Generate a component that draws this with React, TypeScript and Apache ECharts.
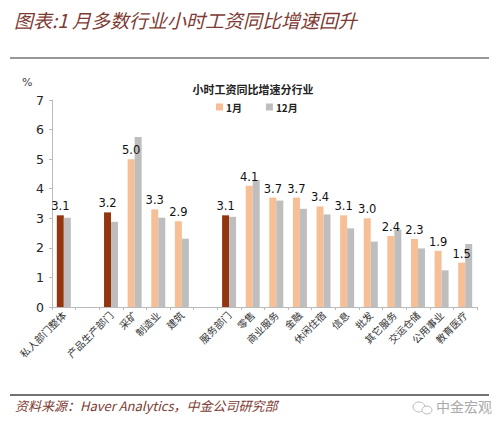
import React, { useEffect, useRef } from "react";
import * as echarts from "echarts";

const categories = [
  "私人部门整体", "", "产品生产部门", "采矿", "制造业", "建筑", "",
  "服务部门", "零售", "商业服务", "金融", "休闲住宿", "信息", "批发",
  "其它服务", "交运仓储", "公用事业", "教育医疗",
];
const janValues: (number | null)[] = [
  3.1, null, 3.2, 5.0, 3.3, 2.9, null, 3.1, 4.1, 3.7, 3.7, 3.4, 3.1, 3.0, 2.4, 2.3, 1.9, 1.5,
];
const decValues: (number | null)[] = [
  3.02, null, 2.88, 5.75, 3.02, 2.31, null, 3.05, 4.3, 3.6, 3.32, 3.13, 2.66, 2.21, 2.62, 1.98, 1.24, 2.13,
];
const aggregateIdx = [0, 2, 7];
const yTicks = { min: 0, max: 7, interval: 1 };

const ORANGE = "#F7BF95";
const DARK = "#93350F";
const GRAY = "#BEBEBE";
const CJK = "'Noto Sans CJK SC', sans-serif";

export default function App() {
  const ref = useRef<HTMLDivElement>(null);
  useEffect(() => {
    if (!ref.current) return;
    const chart = echarts.init(ref.current, null, { renderer: "svg" });
    chart.setOption({
      animation: false,
      backgroundColor: "#ffffff",
      title: {
        text: "小时工资同比增速分行业",
        left: 248,
        textAlign: "center",
        top: 78,
        textStyle: { fontFamily: CJK, fontSize: 11, fontWeight: "bold", color: "#222" },
      },
      legend: {
        top: 97,
        left: 211,
        itemWidth: 7,
        itemHeight: 7,
        itemGap: 24,
        icon: "rect",
        textStyle: { fontFamily: CJK, fontSize: 10, fontWeight: "bold", color: "#222", padding: [0, 0, 0, -2] },
        data: ["1月", "12月"],
      },
      grid: { left: 52, right: 23, top: 100, bottom: 121 },
      xAxis: {
        type: "category",
        data: categories,
        axisLine: { lineStyle: { color: "#BBBBBB" } },
        axisTick: { show: true, alignWithLabel: false, length: 3, lineStyle: { color: "#BBBBBB" } },
        axisLabel: {
          interval: 0,
          rotate: 45,
          fontFamily: CJK,
          fontSize: 10,
          color: "#333",
          margin: 6,
        },
      },
      yAxis: {
        type: "value",
        min: yTicks.min,
        max: yTicks.max,
        interval: yTicks.interval,
        splitLine: { show: false },
        axisLine: { show: true, lineStyle: { color: "#BBBBBB" } },
        axisTick: { show: true, length: 3, lineStyle: { color: "#BBBBBB" } },
        axisLabel: { fontFamily: "'DejaVu Sans', sans-serif", fontSize: 12.5, color: "#222", margin: 8 },
      },
      series: [
        {
          name: "1月",
          type: "bar",
          barWidth: 7,
          barGap: "0%",
          itemStyle: { color: ORANGE },
          data: janValues.map((v, i) =>
            aggregateIdx.includes(i) ? { value: v, itemStyle: { color: DARK } } : v
          ),
          label: {
            show: true,
            position: "top",
            distance: 3,
            formatter: (p: any) => (p.value == null ? "" : Number(p.value).toFixed(1)),
            fontFamily: "'DejaVu Sans', sans-serif",
            fontSize: 11.5,
            color: "#111",
          },
        },
        {
          name: "12月",
          type: "bar",
          barWidth: 7,
          barGap: "0%",
          itemStyle: { color: GRAY },
          data: decValues,
        },
      ],
      graphic: [
        {
          type: "text",
          left: 14,
          top: 10,
          style: {
            text: "图表:1 月多数行业小时工资同比增速回升",
            font: `italic 19px ${CJK}`,
            fill: "#7E3B33",
          },
        },
        {
          type: "line",
          shape: { x1: 10, y1: 58, x2: 489, y2: 58 },
          style: { stroke: "#333", lineWidth: 1.2 },
        },
        {
          type: "text",
          left: 22,
          top: 77,
          style: { text: "%", font: "11px 'DejaVu Sans', sans-serif", fill: "#444" },
        },
        {
          type: "line",
          shape: { x1: 10, y1: 395, x2: 489, y2: 395 },
          style: { stroke: "#444", lineWidth: 1.5 },
        },
        {
          type: "text",
          left: 15,
          top: 399,
          style: {
            text: "资料来源：Haver Analytics，中金公司研究部",
            font: `italic 13px ${CJK}`,
            fill: "#7E3B33",
          },
        },
        {
          type: "ellipse",
          shape: { cx: 419, cy: 407, rx: 6, ry: 5 },
          style: { fill: "none", stroke: "#BBBBBB", lineWidth: 1 },
        },
        {
          type: "ellipse",
          shape: { cx: 427, cy: 410, rx: 5, ry: 4 },
          style: { fill: "#fff", stroke: "#BBBBBB", lineWidth: 1 },
        },
        {
          type: "text",
          left: 436,
          top: 399,
          style: { text: "中金宏观", font: `14px ${CJK}`, fill: "#AAAAAA" },
        },
      ],
    });
    return () => chart.dispose();
  }, []);
  return <div ref={ref} style={{ width: 500, height: 428, position: "absolute", left: 0, top: 0 }} />;
}
